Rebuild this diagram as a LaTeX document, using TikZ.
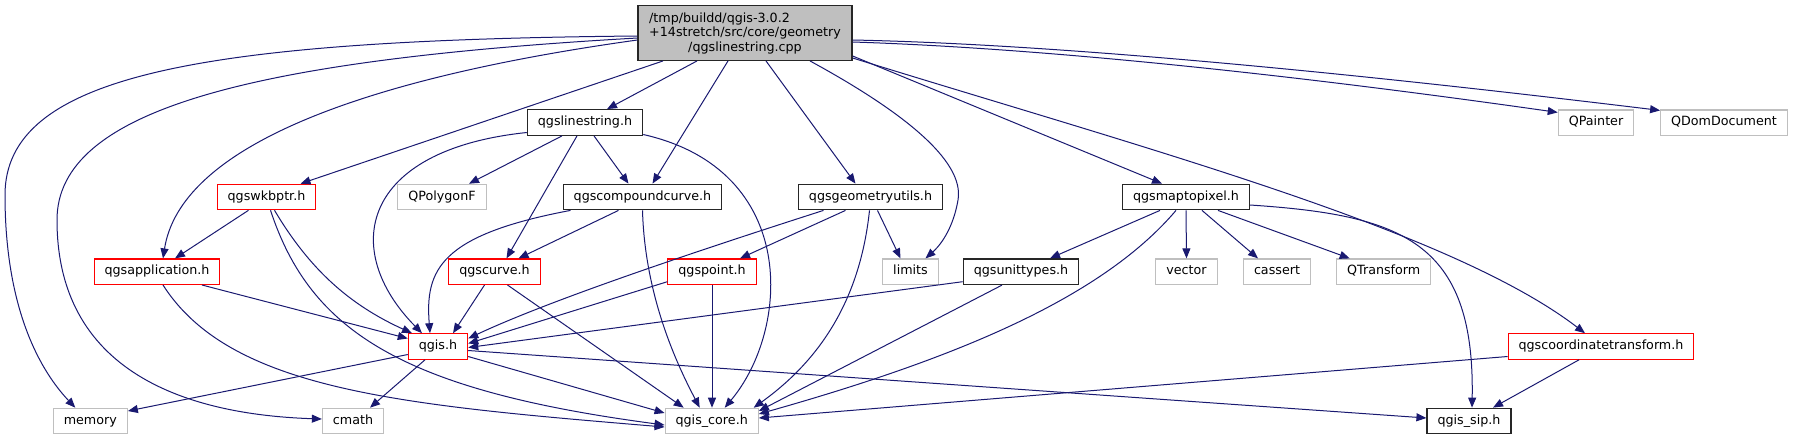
\documentclass[tikz,border=0pt]{standalone}
\usepackage{fontspec}
\setmainfont{DejaVu Sans}
\usepackage{tikz}
\usepackage{xcolor}
\usetikzlibrary{arrows.meta}
\definecolor{edgeblue}{HTML}{191970}
\definecolor{boxgray}{HTML}{BFBFBF}

\begin{document}
\begin{tikzpicture}[x=1pt, y=-1pt, >={Triangle[length=10pt,width=8pt]},
  file/.style={draw=black!85, line width=1.3pt, inner xsep=10.5pt, minimum height=25.5pt,
    text height=9.3pt, text depth=3pt, font=\fontsize{12.7}{14.5}\selectfont},
  redfile/.style={file, draw=red, line width=1.1pt},
  sysfile/.style={file, draw=boxgray, line width=1.1pt},
  dep/.style={->, edgeblue, line width=1pt}]
  \useasboundingbox (0,0) rectangle (1795,440);

  % Source file
  \node[file, fill=boxgray, align=center, minimum width=214pt, minimum height=54.6pt,
    text height=, text depth=] (cpp) at (745,33)
    {\rlap{/tmp/buildd/qgis-3.0.2}\phantom{+14stretch/src/core/geometry}\\
     +14stretch/src/core/geometry\\/qgslinestring.cpp};

  % Headers, row by row
  \node[file] (linestr) at (585,122.5) {qgslinestring.h};
  \node[sysfile] (qpainter) at (1596,122.7) {QPainter};
  \node[sysfile] (qdomdoc) at (1724,122.7) {QDomDocument};

  \node[redfile] (wkbptr) at (266.5,197) {qgswkbptr.h};
  \node[sysfile] (polyf) at (442,197) {QPolygonF};
  \node[file] (compound) at (642.5,197) {qgscompoundcurve.h};
  \node[file] (geomutil) at (870.5,197) {qgsgeometryutils.h};
  \node[file] (maptopix) at (1186,197) {qgsmaptopixel.h};

  \node[redfile] (app) at (157,271.7) {qgsapplication.h};
  \node[redfile] (curve) at (494.5,271.7) {qgscurve.h};
  \node[redfile] (point) at (712,271.7) {qgspoint.h};
  \node[sysfile] (limits) at (910.5,271.7) {limits};
  \node[file] (units) at (1021,271.7) {qgsunittypes.h};
  \node[sysfile] (vector) at (1186.5,271.7) {vector};
  \node[sysfile] (cassert) at (1277,271.7) {cassert};
  \node[sysfile] (qtrans) at (1383.7,271.7) {QTransform};

  \node[redfile] (qgis) at (438,346.5) {qgis.h};
  \node[redfile] (coordtr) at (1601,346.5) {qgscoordinatetransform.h};

  \node[sysfile] (memory) at (90.3,421) {memory};
  \node[sysfile] (cmath) at (353,421) {cmath};
  \node[sysfile] (core) at (711.7,421) {qgis\_core.h};
  \node[file] (sip) at (1469,421) {qgis\_sip.h};

  % From the source file
  \draw[dep] ([yshift=-3pt]cpp.west) .. controls (200,40) and (5,75) .. (5,195)
    .. controls (5,300) and (35,365) .. ([xshift=-15pt]memory.north);
  \draw[dep] ([yshift=-5pt]cpp.west) .. controls (250,60) and (57,110) .. (57,220)
    .. controls (57,380) and (200,415) .. ([yshift=2pt]cmath.west);
  \draw[dep] ([yshift=-7pt]cpp.west) .. controls (350,80) and (180,150) .. ([xshift=6pt]app.north);
  \draw[dep] ([xshift=-82pt]cpp.south) -- ([xshift=34pt]wkbptr.north);
  \draw[dep] ([xshift=-48pt]cpp.south) -- ([xshift=22pt]linestr.north);
  \draw[dep] ([xshift=-17pt]cpp.south) -- ([xshift=10pt]compound.north);
  \draw[dep] ([xshift=21pt]cpp.south) -- ([xshift=-15pt]geomutil.north);
  \draw[dep] ([xshift=65pt]cpp.south) .. controls (900,110) and (965,160) .. (958,200)
    .. controls (952,235) and (935,250) .. ([xshift=15pt]limits.north);
  \draw[dep] ([yshift=-23pt]cpp.east) -- ([xshift=-24pt]maptopix.north);
  \draw[dep] ([yshift=-25pt]cpp.east) .. controls (1150,150) and (1450,230) .. ([xshift=-16pt]coordtr.north);
  \draw[dep] ([yshift=-9pt]cpp.east) .. controls (1100,50) and (1400,90) .. ([yshift=-3pt]qpainter.north west);
  \draw[dep] ([yshift=-7pt]cpp.east) .. controls (1100,45) and (1450,85) .. ([yshift=-1pt]qdomdoc.north west);

  % qgslinestring.h
  \draw[dep] ([xshift=-23pt]linestr.south) -- ([xshift=27pt]polyf.north);
  \draw[dep] ([xshift=9pt]linestr.south) -- ([xshift=-14pt]compound.north);
  \draw[dep] ([xshift=-8pt]linestr.south) -- ([xshift=12pt]curve.north);
  \draw[dep] ([yshift=-10pt]linestr.west) .. controls (360,150) and (340,250) .. ([xshift=-16pt]qgis.north);
  \draw[dep] ([yshift=-12pt]linestr.east) .. controls (800,170) and (790,330) .. ([xshift=13pt]core.north);

  % qgscompoundcurve.h and qgscurve.h
  \draw[dep] ([xshift=-24pt]compound.south) -- ([xshift=24pt]curve.north);
  \draw[dep] ([xshift=-72pt]compound.south) .. controls (440,235) and (425,270) .. ([xshift=-8pt]qgis.north);
  \draw[dep] (compound.south) .. controls (645,300) and (680,370) .. ([xshift=-12pt]core.north);
  \draw[dep] ([xshift=-10pt]curve.south) -- ([xshift=15pt]qgis.north);
  \draw[dep] ([xshift=13pt]curve.south) -- ([xshift=-28pt]core.north);

  % qgsgeometryutils.h and qgspoint.h
  \draw[dep] ([xshift=-25pt]geomutil.south) -- ([xshift=28pt]point.north);
  \draw[dep] ([xshift=-47pt]geomutil.south) .. controls (700,250) and (550,300) .. ([yshift=8pt]qgis.east);
  \draw[dep] ([xshift=-1pt]geomutil.south) .. controls (860,300) and (820,360) .. ([xshift=42pt]core.north);
  \draw[dep] ([xshift=7pt]geomutil.south) -- ([xshift=-10pt]limits.north);
  \draw[dep] ([yshift=-10pt]point.west) -- ([yshift=3pt]qgis.east);
  \draw[dep] (point.south) -- (point.south |- core.north);

  % qgsmaptopixel.h and qgsunittypes.h
  \draw[dep] ([xshift=-26pt]maptopix.south) -- ([xshift=29pt]units.north);
  \draw[dep] ([xshift=-10pt]maptopix.south) .. controls (1100,300) and (950,360) .. ([yshift=7pt]core.east);
  \draw[dep] (maptopix.south) -- (vector.north);
  \draw[dep] ([xshift=16pt]maptopix.south) -- ([xshift=-19pt]cassert.north);
  \draw[dep] ([xshift=32pt]maptopix.south) -- ([xshift=-34pt]qtrans.north);
  \draw[dep] ([yshift=-8pt]maptopix.east) .. controls (1400,215) and (1475,240) .. ([xshift=3pt]sip.north);
  \draw[dep] ([yshift=-10pt]units.west) -- ([yshift=-1pt]qgis.east);
  \draw[dep] ([xshift=-19pt]units.south) -- ([yshift=10pt]core.east);

  % qgscoordinatetransform.h
  \draw[dep] ([yshift=-10pt]coordtr.west) -- ([yshift=3pt]core.east);
  \draw[dep] ([xshift=-22pt]coordtr.south) -- ([xshift=24pt]sip.north);

  % qgswkbptr.h and qgsapplication.h
  \draw[dep] ([xshift=-18pt]wkbptr.south) -- ([xshift=18pt]app.north);
  \draw[dep] ([xshift=8pt]wkbptr.south) .. controls (310,270) and (350,305) .. ([xshift=-26pt]qgis.north);
  \draw[dep] ([xshift=4pt]wkbptr.south) .. controls (310,330) and (400,390) .. ([yshift=-4pt]core.west);
  \draw[dep] ([xshift=45pt]app.south) -- ([yshift=8pt]qgis.west);
  \draw[dep] ([xshift=6pt]app.south) .. controls (230,390) and (400,405) .. ([yshift=-6pt]core.west);

  % qgis.h
  \draw[dep] ([yshift=-8pt]qgis.west) -- ([yshift=10pt]memory.east);
  \draw[dep] ([xshift=-13pt]qgis.south) -- ([xshift=17pt]cmath.north);
  \draw[dep] ([yshift=-10pt]qgis.east) -- ([yshift=8pt]core.west);
  \draw[dep] ([yshift=-4pt]qgis.east) -- ([yshift=3pt]sip.west);
\end{tikzpicture}
\end{document}
